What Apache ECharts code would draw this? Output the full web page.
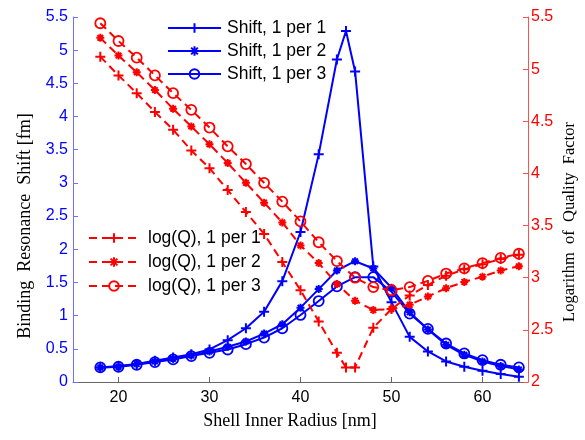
<!DOCTYPE html>
<html>
<head>
<meta charset="utf-8">
<script src="https://cdn.jsdelivr.net/npm/echarts@6/dist/echarts.min.js"></script>
<style>
html,body{margin:0;padding:0;background:#fff;}
#chart{width:585px;height:440px;}
</style>
</head>
<body>
<div id="chart"></div>
<script>
// ---- data ----
const xTickLabels = [20, 30, 40, 50, 60];
const xEven = [18,20,22,24,26,28,30,32,34,36,38,40,42,44,46,48,50,52,54,56,58,60,62,64];
const xOnePerOne = [18,20,22,24,26,28,30,32,34,36,38,40,42,44,45,46,48,50,52,54,56,58,60,62,64];

const shift1 = [0.22,0.24,0.27,0.32,0.37,0.42,0.49,0.63,0.81,1.06,1.52,2.26,3.43,4.86,5.29,4.68,1.74,1.20,0.68,0.46,0.31,0.23,0.17,0.12,0.08];
const shift2 = [0.22,0.23,0.27,0.31,0.35,0.40,0.46,0.53,0.61,0.73,0.87,1.12,1.40,1.68,1.82,1.71,1.42,1.05,0.79,0.56,0.41,0.31,0.24,0.19];
const shift3 = [0.22,0.23,0.26,0.30,0.34,0.39,0.44,0.49,0.57,0.67,0.81,1.01,1.22,1.44,1.58,1.58,1.36,1.03,0.80,0.58,0.43,0.33,0.26,0.22];

const logQ1 = [5.12,4.94,4.77,4.59,4.42,4.22,4.05,3.84,3.63,3.42,3.15,2.88,2.58,2.28,2.14,2.14,2.52,2.70,2.83,2.93,3.02,3.08,3.13,3.18,3.22];
const logQ2 = [5.30,5.13,4.97,4.80,4.62,4.45,4.28,4.10,3.91,3.72,3.53,3.31,3.14,2.94,2.78,2.69,2.70,2.74,2.82,2.90,2.96,3.01,3.07,3.11];
const logQ3 = [5.44,5.27,5.11,4.94,4.77,4.61,4.44,4.26,4.09,3.91,3.73,3.54,3.34,3.16,3.00,2.91,2.88,2.91,2.97,3.04,3.09,3.14,3.19,3.23];

const shiftNames = ['Shift, 1 per 1', 'Shift, 1 per 2', 'Shift, 1 per 3'];
const logQNames = ['log(Q), 1 per 1', 'log(Q), 1 per 2', 'log(Q), 1 per 3'];

// ---- helpers ----
function pairs(xs, ys) { return xs.map((x, i) => [x, ys[i]]); }

const BLUE = '#0000ff';
const RED = '#ff0000';
const PLUS = 'path://M0,5L10,5M5,0L5,10';
const STAR = 'path://M0,5L10,5M5,0L5,10M1.5,1.5L8.5,8.5M1.5,8.5L8.5,1.5';
const RING = 'circle';
const SANS = 'Liberation Sans, Arial, sans-serif';
const SERIF = '"Liberation Serif", "Times New Roman", serif';

function mk(name, data, color, symbol, size, dashed, yIdx) {
  return {
    name: name,
    type: 'line',
    yAxisIndex: yIdx,
    data: data,
    symbol: symbol,
    symbolSize: size,
    showSymbol: true,
    animation: false,
    lineStyle: { color: color, width: 2, type: dashed ? [8, 5] : 'solid' },
    itemStyle: {
      color: symbol === RING ? 'rgba(0,0,0,0)' : color,
      borderColor: color,
      borderWidth: symbol === RING ? 1.8 : 2
    },
    emphasis: { disabled: true }
  };
}

const chart = echarts.init(document.getElementById('chart'), null, { renderer: 'canvas' });

const option = {
  backgroundColor: '#ffffff',
  animation: false,
  grid: { left: 73, right: 57, top: 17, bottom: 58, containLabel: false },
  legend: [
    {
      data: shiftNames,
      orient: 'vertical',
      left: 167, top: 19, padding: 0,
      itemWidth: 53, itemHeight: 12, itemGap: 5,
      textStyle: { color: '#000', fontSize: 17.5, fontFamily: SANS, padding: [0, 0, 0, 1] },
      selectedMode: false
    },
    {
      data: logQNames,
      orient: 'vertical',
      left: 88, top: 229, padding: 0,
      itemWidth: 50, itemHeight: 12, itemGap: 6,
      textStyle: { color: '#000', fontSize: 17.5, fontFamily: SANS, padding: [0, 0, 0, 4] },
      selectedMode: false
    }
  ],
  xAxis: {
    type: 'value',
    min: 15, max: 65,
    axisLine: { show: true, lineStyle: { color: '#666', width: 1 } },
    axisTick: { show: true, inside: true, length: 5, customValues: xTickLabels, lineStyle: { color: '#666' } },
    axisLabel: { customValues: xTickLabels, color: '#000', fontSize: 16, margin: 8, fontFamily: SANS },
    splitLine: { show: false }
  },
  yAxis: [
    {
      type: 'value', position: 'left',
      min: 0, max: 5.5, interval: 0.5,
      axisLine: { show: true, lineStyle: { color: '#7070ff', width: 1 } },
      axisTick: { show: true, inside: true, length: 5, lineStyle: { color: '#7070ff' } },
      axisLabel: { color: BLUE, fontSize: 16, margin: 5, fontFamily: SANS },
      splitLine: { show: false }
    },
    {
      type: 'value', position: 'right',
      min: 2, max: 5.5, interval: 0.5,
      axisLine: { show: true, lineStyle: { color: '#ff5050', width: 1 } },
      axisTick: { show: true, inside: true, length: 5, lineStyle: { color: '#ff5050' } },
      axisLabel: { color: RED, fontSize: 16, margin: 3, fontFamily: SANS },
      splitLine: { show: false }
    }
  ],
  graphic: [
    {
      type: 'text', x: 25, y: 226, rotation: Math.PI / 2,
      style: { text: 'Binding  Resonance  Shift [fm]', align: 'center', verticalAlign: 'middle',
               font: '18px ' + SERIF, fill: '#000' }
    },
    {
      type: 'text', x: 570, y: 222, rotation: Math.PI / 2,
      style: { text: 'Logarithm  of  Quality  Factor', align: 'center', verticalAlign: 'middle',
               font: '16.5px ' + SERIF, fill: '#000' }
    },
    {
      type: 'text', x: 290, y: 421,
      style: { text: 'Shell Inner Radius [nm]', align: 'center', verticalAlign: 'middle',
               font: '18px ' + SERIF, fill: '#000' }
    }
  ],
  series: [
    mk(shiftNames[0], pairs(xOnePerOne, shift1), BLUE, PLUS, 10, false, 0),
    mk(shiftNames[1], pairs(xEven, shift2), BLUE, STAR, 8, false, 0),
    mk(shiftNames[2], pairs(xEven, shift3), BLUE, RING, 10, false, 0),
    mk(logQNames[0], pairs(xOnePerOne, logQ1), RED, PLUS, 10, true, 1),
    mk(logQNames[1], pairs(xEven, logQ2), RED, STAR, 8, true, 1),
    mk(logQNames[2], pairs(xEven, logQ3), RED, RING, 10, true, 1)
  ]
};
chart.setOption(option);
</script>
</body>
</html>
